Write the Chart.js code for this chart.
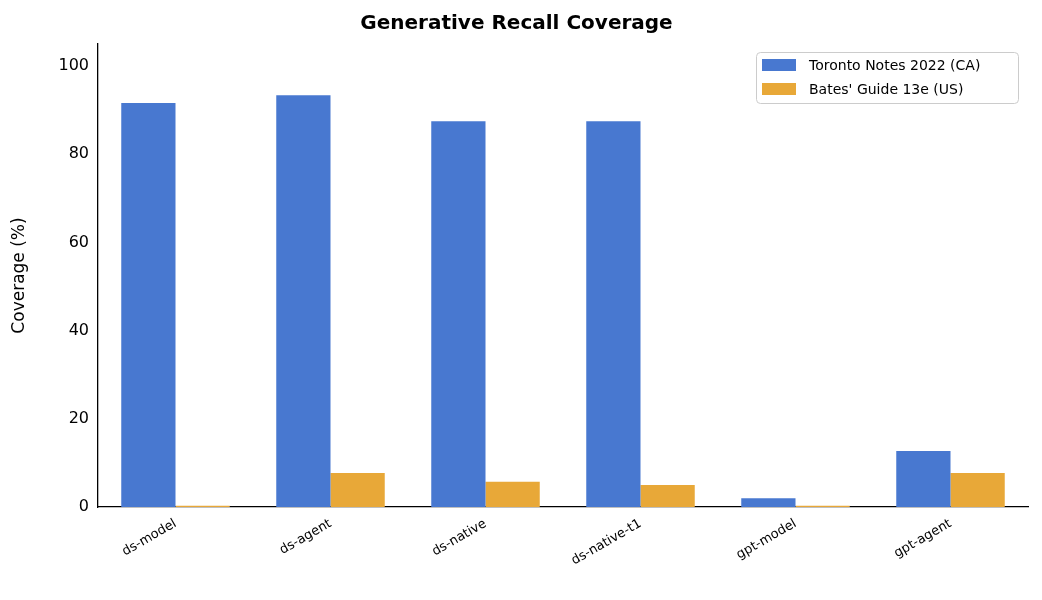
<!DOCTYPE html>
<html><head><meta charset="utf-8">
<script src="https://cdn.jsdelivr.net/npm/chart.js@4"></script>
<style>body{margin:0;background:#fff}#w{width:1042px;height:600px}</style>
</head><body><div id="w"><canvas id="c"></canvas></div>
<script>
const categories = ["ds-model","ds-agent","ds-native","ds-native-t1","gpt-model","gpt-agent"];
const toronto = [91.6,93.4,87.5,87.5,2.0,12.7];
const bates = [0.3,7.7,5.7,5.0,0.3,7.7];
const yTicks = [0,20,40,60,80,100];
const boxLegend = {id:'boxLegend',afterDraw(ch){
  const c=ch.ctx, a=ch.chartArea;
  const x=a.right-272, y=a.top+8, w=262, h=51;
  c.save();
  c.fillStyle='rgba(255,255,255,0.85)';c.strokeStyle='#ccc';c.lineWidth=1;
  c.beginPath();c.roundRect(x+0.5,y+0.5,w,h,4);c.fill();c.stroke();
  c.font='14px "DejaVu Sans"';c.textBaseline='middle';
  ch.data.datasets.forEach((d,i)=>{
    const yy=y+13+i*24;
    c.fillStyle=d.backgroundColor;c.fillRect(x+6,yy-6,34,12);
    c.fillStyle='#000';c.fillText(d.label,x+53,yy+1);
  });
  c.restore();
}};
new Chart(document.getElementById('c'),{
 type:'bar',
 data:{labels:categories,datasets:[
  {label:"Toronto Notes 2022 (CA)",data:toronto,backgroundColor:'#4878d0',categoryPercentage:0.7,barPercentage:1},
  {label:"Bates' Guide 13e (US)",data:bates,backgroundColor:'#e8a838',categoryPercentage:0.7,barPercentage:1}]},
 options:{responsive:true,maintainAspectRatio:false,animation:false,
  layout:{padding:{left:5,right:14,top:4,bottom:4}},
  plugins:{
   title:{display:true,text:'Generative Recall Coverage',color:'#000',font:{family:'DejaVu Sans',size:20,weight:'bold'},padding:{top:8,bottom:8}},
   legend:{display:false},
   tooltip:{enabled:false}},
  scales:{
   x:{grid:{display:false,tickLength:6},border:{color:'#000',width:1.3},
      afterFit:s=>{s.height=89;},
      ticks:{color:'#000',maxRotation:30,minRotation:30,font:{family:'DejaVu Sans',size:13}}},
   y:{min:0,max:105,grid:{display:false,tickLength:6},border:{color:'#000',width:1.3},
      afterFit:s=>{s.width=93;},
      afterBuildTicks:a=>{a.ticks=yTicks.map(v=>({value:v}));},
      title:{display:true,text:'Coverage (%)',color:'#000',font:{family:'DejaVu Sans',size:17}},
      ticks:{color:'#000',font:{family:'DejaVu Sans',size:16}}}}},
 plugins:[boxLegend]
});
</script></body></html>
